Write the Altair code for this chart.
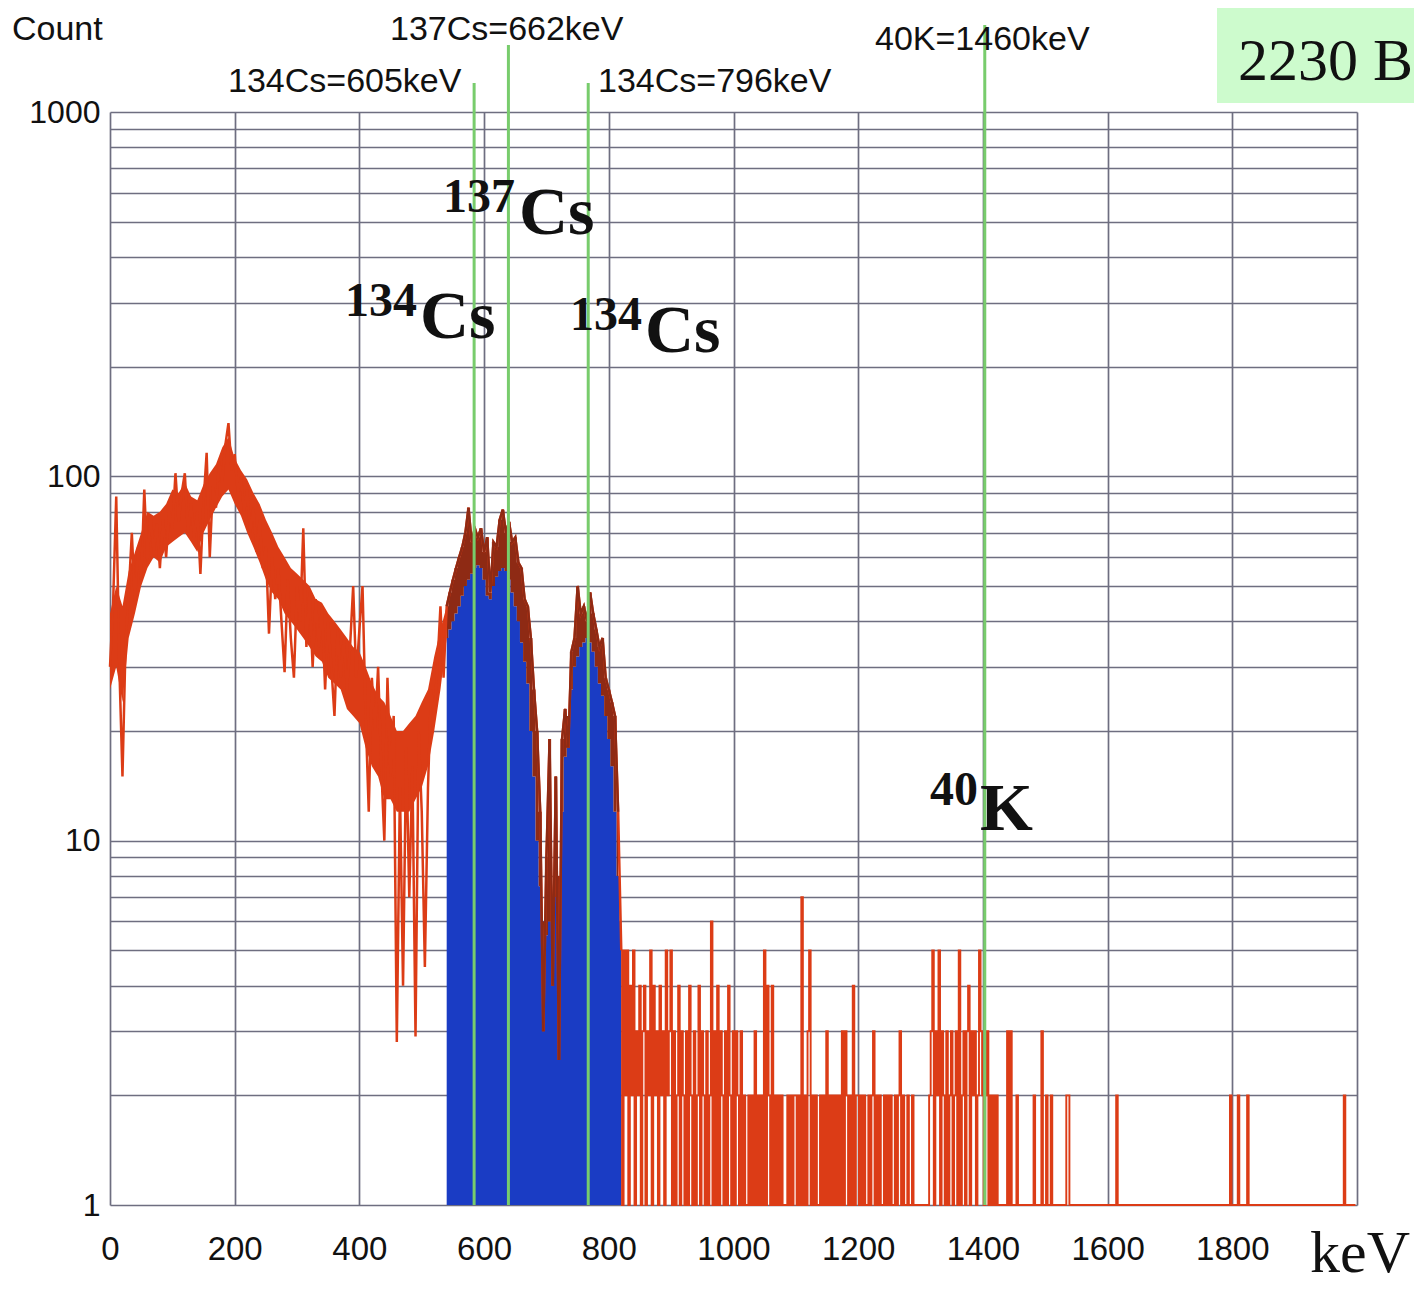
import altair as alt
import pandas as pd

# ---------------- data ----------------
# low-energy part: one value every 5 keV, 0 .. 815 keV
lo_counts = [
    # 0-45
    30, 45, 88, 30, 15, 35, 48, 70, 45, 64,
    # 50-95
    52, 92, 58, 78, 62, 74, 56, 76, 60, 80,
    # 100-145
    72, 102, 75, 90, 102, 70, 84, 68, 80, 54,
    # 150-195
    85, 116, 60, 94, 82, 110, 96, 122, 140, 104,
    # 200-245
    115, 90, 100, 80, 92, 70, 82, 62, 76, 56,
    # 250-295
    64, 37, 60, 46, 56, 40, 29, 52, 36, 28,
    # 300-345
    50, 40, 72, 34, 48, 30, 46, 34, 44, 26,
    # 350-395
    40, 30, 22, 38, 28, 36, 26, 34, 50, 28,
    # 400-445
    38, 50, 22, 12, 28, 20, 30, 16, 10, 28,
    # 450-495
    15, 22, 2.8, 14, 4, 18, 7, 16, 2.9, 20,
    # 500-535
    12, 4.5, 14, 26, 22, 30, 44, 28,
    # 540-585 (ROI)
    44, 48, 52, 56, 60, 64, 70, 82, 66, 72,
    # 590-635
    68, 72, 62, 68, 48, 66, 64, 76, 81, 70,
    # 640-685
    75, 66, 68, 58, 56, 46, 44, 36, 26, 20,
    # 690-735
    12, 3, 9, 19, 4, 15, 2.5, 19, 23, 18,
    # 740-785
    33, 36, 50, 42, 44, 40, 48, 42, 38, 34,
    # 790-815
    36, 28, 26, 24, 22, 12,
]
LO_STEP = 5.0

# dense core of the noisy continuum (lower / upper edge), every 10 keV, 0 .. 540 keV
core_low = [26, 30, 24, 36, 42, 50, 56, 60, 58, 64,
            66, 68, 70, 66, 62, 70, 76, 82, 88, 92,
            84, 78, 70, 64, 58, 52, 48, 46, 42, 40,
            38, 36, 34, 32, 31, 28, 27, 26, 23, 22,
            21, 18, 16, 15, 13, 13, 12, 12, 12, 13,
            14, 16, 20, 26, 36]
core_high = [42, 50, 44, 55, 62, 70, 80, 78, 80, 84,
             92, 90, 96, 88, 86, 95, 102, 108, 120, 128,
             112, 104, 98, 90, 84, 76, 70, 64, 60, 56,
             54, 52, 50, 46, 45, 42, 40, 38, 36, 34,
             33, 30, 27, 25, 24, 22, 20, 20, 21, 22,
             24, 26, 32, 38, 44]
CORE_STEP = 10.0

# high-energy part: one value every 2.5 keV, 820 .. 1997.5 keV
hi_820 = [5, 1, 5, 2, 5, 1, 4, 2, 5, 1, 3, 2,
          4, 1, 3, 4, 1, 3, 2, 5, 1, 4, 2, 3,
          1, 4, 2, 3, 1, 5, 2, 3]
hi_900 = [5, 1, 3, 1, 2, 4, 1, 3, 2, 1, 3, 1, 4, 2, 1, 3, 1, 2, 4, 1,
          3, 2, 1, 3, 1, 2, 6, 1, 3, 1, 4, 1, 3, 2, 1, 3, 1, 4, 2, 1]
hi_1000 = [3, 1, 3, 2, 1, 3, 1, 2, 1, 1, 2, 1, 2, 1, 3, 1, 2, 1, 2, 1,
           5, 1, 4, 2, 1, 4, 1, 2, 1, 2, 1, 2, 1, 1, 1, 2, 1, 2, 1, 2]
hi_1100 = [2, 1, 2, 1, 7, 1, 2, 1, 3, 5, 1, 2, 1, 2, 1, 1, 2, 1, 2, 1,
           3, 1, 2, 1, 2, 1, 2, 1, 2, 1, 3, 1, 3, 2, 1, 2, 1, 4, 1, 2]
hi_1200 = [2, 1, 2, 1, 2, 1, 1, 2, 1, 2, 3, 1, 2, 1, 2, 1, 1, 2, 1, 2,
           1, 2, 1, 1, 2, 1, 2, 3, 1, 2, 1, 1, 2, 1, 1, 2, 1, 1, 1, 1]
hi_1300 = [1, 1, 1, 1, 1, 1, 2, 3, 5, 1, 3, 2, 5, 1, 3, 2, 1, 3, 1, 2,
           3, 1, 2, 3, 1, 5, 1, 2, 3, 1, 3, 4, 1, 3, 2, 3, 1, 2, 5, 3]
hi_1400 = [2, 1, 2, 3, 1, 2, 1, 2, 1, 2, 1, 1, 1, 1, 1, 1, 3, 1, 3, 1,
           1, 1, 2, 1, 1, 1, 1, 1, 1, 1, 1, 1, 1, 2, 1, 1, 1, 1, 3, 1]
hi_1500 = [1, 2, 1, 1, 2, 1, 1, 1, 1, 1, 1, 1, 1, 1, 2, 2, 1, 1, 1, 1,
           1, 1, 1, 1, 1, 1, 1, 1, 1, 1, 1, 1, 1, 1, 1, 1, 1, 1, 1, 1]
hi_1600 = [1, 1, 1, 1, 1, 1, 2, 1, 1, 1, 1, 1, 1, 1, 1, 1, 1, 1, 1, 1,
           1, 1, 1, 1, 1, 1, 1, 1, 1, 1, 1, 1, 1, 1, 1, 1, 1, 1, 1, 1]
hi_1700 = [1, 1, 1, 1, 1, 1, 1, 1, 1, 1, 1, 1, 1, 1, 1, 1, 1, 1, 1, 1,
           1, 1, 1, 1, 1, 1, 1, 1, 1, 1, 1, 1, 1, 1, 1, 1, 1, 1, 1, 2]
hi_1800 = [1, 1, 1, 1, 2, 1, 1, 1, 1, 1, 2, 1, 1, 1, 1, 1, 1, 1, 1, 1,
           1, 1, 1, 1, 1, 1, 1, 1, 1, 1, 1, 1, 1, 1, 1, 1, 1, 1, 1, 1]
hi_1900 = [1, 1, 1, 1, 1, 1, 1, 1, 1, 1, 1, 1, 1, 1, 1, 1, 1, 1, 1, 1,
           1, 1, 1, 1, 1, 1, 1, 1, 1, 1, 1, 1, 2, 1, 1, 1, 1, 1, 1, 1]
HI_START, HI_STEP = 820.0, 2.5

# blue region of interest (net peak area), every 5 keV, 540 .. 820 keV
roi_counts = [
    36, 38, 40, 42, 44, 47, 50, 52, 54, 56,
    57, 56, 52, 47, 46, 50, 53, 55, 56, 55,
    52, 48, 44, 40, 35, 31, 27, 20, 15, 10,
    7.5, 6, 5.5, 6, 6.5, 7, 8, 12, 17, 22,
    26, 30, 32, 34, 35, 36, 35, 33, 30, 27,
    25, 22, 19, 16, 12, 8, 6,
]
ROI_START = 540.0

# reference lines (keV position on this calibration) and labels
line_kev = [584, 639, 767, 1403]
line_labels = ["134Cs=605keV", "137Cs=662keV", "134Cs=796keV", "40K=1460keV"]

x_ticks = [0, 200, 400, 600, 800, 1000, 1200, 1400, 1600, 1800, 2000]
y_ticks = [1, 2, 3, 4, 5, 6, 7, 8, 9,
           10, 20, 30, 40, 50, 60, 70, 80, 90,
           100, 200, 300, 400, 500, 600, 700, 800, 900, 1000]

# ---------------- tables ----------------
hi_counts = (hi_820 + hi_900 + hi_1000 + hi_1100 + hi_1200 + hi_1300 +
             hi_1400 + hi_1500 + hi_1600 + hi_1700 + hi_1800 + hi_1900)
lo_df = pd.DataFrame({"kev": [LO_STEP * i for i in range(len(lo_counts))],
                      "count": lo_counts})
hi_df = pd.DataFrame({"kev": [HI_START + HI_STEP * i for i in range(len(hi_counts))],
                      "count": hi_counts})
lo_df = pd.concat([lo_df, hi_df.iloc[:1]], ignore_index=True)
roi_df = pd.DataFrame({"kev": [ROI_START + 5 * i for i in range(len(roi_counts))],
                       "count": roi_counts})
roi_df["base"] = 1
dark_df = lo_df[(lo_df["kev"] >= 540) & (lo_df["kev"] <= 815)]
band_df = dark_df.merge(roi_df.rename(columns={"count": "net"}), on="kev")
core_df = pd.DataFrame({"kev": [CORE_STEP * i for i in range(len(core_low))],
                        "count": core_high, "low": core_low})

W, H = 1247, 1093
GRID = "#6e6e80"
RED = "#dc3c16"
DARK = "#8e2a14"
BLUE = "#1a3cc4"
GREEN = "#78cc6c"

x_scale = alt.Scale(domain=[0, 2000], nice=False, zero=False)
y_scale = alt.Scale(type="log", domain=[1, 1000], nice=False)
x_axis = alt.Axis(values=x_ticks, format="d",
                  labelExpr="datum.value < 2000 ? datum.label : ''",
                  grid=True, gridColor=GRID, gridWidth=1.7, gridOpacity=1,
                  domain=False, ticks=False, labelFontSize=33,
                  labelFont="Liberation Sans", labelColor="#111111",
                  labelPadding=28, labelFlush=False, labelOverlap=False, title=None)
y_axis = alt.Axis(values=y_ticks, format="d",
                  labelExpr="indexof([1, 10, 100, 1000], datum.value) >= 0 ? datum.label : ''",
                  grid=True, gridColor=GRID, gridWidth=1.7, gridOpacity=1,
                  domain=False, ticks=False, labelFontSize=32,
                  labelFont="Liberation Sans", labelColor="#111111",
                  labelPadding=10, labelFlush=False, labelOverlap=False, title=None)

X = alt.X("kev:Q", scale=x_scale, axis=x_axis)
Y = alt.Y("count:Q", scale=y_scale, axis=y_axis)

core = alt.Chart(core_df).mark_area(color=RED, opacity=1).encode(x=X, y=Y, y2="low:Q")
blue = alt.Chart(roi_df).mark_area(color=BLUE, interpolate="step", opacity=1).encode(
    x=X, y=Y, y2="base:Q")
band = alt.Chart(band_df).mark_area(color=DARK, interpolate="step", opacity=1).encode(
    x=X, y=Y, y2="net:Q")
red_lo = alt.Chart(lo_df).mark_line(color=RED, strokeWidth=2.5).encode(x=X, y=Y)
red_hi = alt.Chart(hi_df).mark_line(color=RED, strokeWidth=1.9, interpolate="step").encode(x=X, y=Y)
dark = alt.Chart(dark_df).mark_line(color=DARK, strokeWidth=2.4).encode(x=X, y=Y)

rules_df = pd.DataFrame({"kev": line_kev, "top": [-29, -67, -29, -87]})
rules = alt.Chart(rules_df).mark_rule(color=GREEN, strokeWidth=3).encode(
    x=X,
    y=alt.Y("top:Q", scale=None, axis=None),
    y2=alt.value(H))

one = pd.DataFrame({"a": [0]})


def label(text, x, y, size, font="Liberation Sans", weight="normal"):
    return alt.Chart(one).mark_text(
        text=text, font=font, fontSize=size, fontWeight=weight, color="#111111",
        align="left", baseline="alphabetic").encode(x=alt.value(x), y=alt.value(y))


box = alt.Chart(one).mark_rect(color="#cdfbcd").encode(
    x=alt.value(1107), x2=alt.value(1320), y=alt.value(-110), y2=alt.value(-9))

texts = [
    label("Count", -98, -72, 34),
    label(line_labels[0], 118, -20, 34),
    label(line_labels[1], 280, -72, 34),
    label(line_labels[2], 488, -20, 34),
    label(line_labels[3], 765, -62, 34),
    label("2230 B", 1128, -32, 60, font="Liberation Serif"),
    label("keV", 1200, 1160, 60, font="Liberation Serif"),
    label("137", 333, 100, 48, font="Liberation Serif", weight="bold"),
    label("Cs", 409, 122, 68, font="Liberation Serif", weight="bold"),
    label("134", 235, 204, 48, font="Liberation Serif", weight="bold"),
    label("Cs", 310, 226, 68, font="Liberation Serif", weight="bold"),
    label("134", 460, 218, 48, font="Liberation Serif", weight="bold"),
    label("Cs", 535, 240, 68, font="Liberation Serif", weight="bold"),
    label("40", 820, 693, 48, font="Liberation Serif", weight="bold"),
    label("K", 870, 718, 68, font="Liberation Serif", weight="bold"),
]

chart = alt.layer(core, blue, band, red_lo, red_hi, dark, rules, box, *texts).properties(
    width=W, height=H,
    padding={"left": 102, "top": 104, "right": 57, "bottom": 84},
    autosize=alt.AutoSizeParams(type="none"),
    background="white",
).configure_view(stroke=None)

chart.save("out.html", embed_options={"renderer": "svg", "actions": False})
